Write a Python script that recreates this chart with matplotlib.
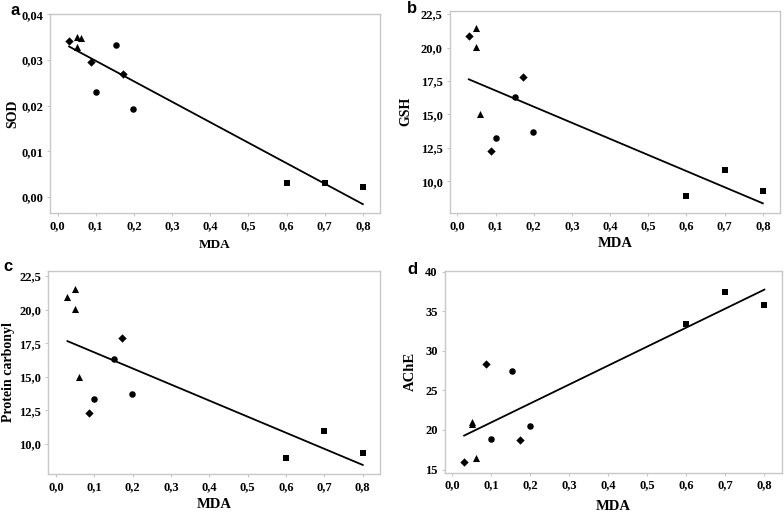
import matplotlib.pyplot as plt
import numpy as np
from matplotlib.ticker import FuncFormatter

# data, grouped by marker type
# panel a: SOD
a_dia_x = [0.03, 0.087, 0.172]
a_dia_y = [0.0341, 0.0295, 0.0269]
a_tri_x = [0.05, 0.06, 0.05]
a_tri_y = [0.0351, 0.0348, 0.0328]
a_cir_x = [0.10, 0.152, 0.198]
a_cir_y = [0.0229, 0.0334, 0.0193]
a_sq_x = [0.6, 0.7, 0.8]
a_sq_y = [0.0031, 0.0031, 0.0023]

# panel b: GSH
b_dia_x = [0.03, 0.087, 0.172]
b_dia_y = [20.86, 12.29, 17.83]
b_tri_x = [0.05, 0.05, 0.06]
b_tri_y = [21.48, 20.06, 15.02]
b_cir_x = [0.10, 0.152, 0.198]
b_cir_y = [13.28, 16.29, 13.68]
b_sq_x = [0.6, 0.7, 0.8]
b_sq_y = [8.88, 10.87, 9.25]

# panel c: protein carbonyl
c_dia_x = [0.087, 0.172]
c_dia_y = [12.33, 17.87]
c_tri_x = [0.03, 0.05, 0.05, 0.06]
c_tri_y = [20.92, 21.51, 20.07, 15.02]
c_cir_x = [0.10, 0.152, 0.198]
c_cir_y = [13.32, 16.31, 13.71]
c_sq_x = [0.6, 0.7, 0.8]
c_sq_y = [8.96, 10.94, 9.33]

# panel d: AChE
d_dia_x = [0.03, 0.087, 0.172]
d_dia_y = [16.0, 28.4, 18.76]
d_tri_x = [0.05, 0.05, 0.06]
d_tri_y = [21.0, 20.7, 16.4]
d_cir_x = [0.10, 0.152, 0.198]
d_cir_y = [18.89, 27.46, 20.49]
d_sq_x = [0.6, 0.7, 0.8]
d_sq_y = [33.41, 37.47, 35.78]

xticks = [0.0, 0.1, 0.2, 0.3, 0.4, 0.5, 0.6, 0.7, 0.8]

plt.rcParams["font.family"] = "Liberation Serif"
plt.rcParams["font.weight"] = "bold"
plt.rcParams["xtick.labelsize"] = 9
plt.rcParams["ytick.labelsize"] = 9
frame_col = "#c8c8c8"


def comma(fmt):
    return FuncFormatter(lambda v, p: (fmt % v).replace(".", ","))


def panel(rect, letter, groups, ylabel, ylim, yticks, yfmt, letter_pos,
          ylab_x, xlab_y, xlab_size, ylab_size):
    ax = fig.add_axes(rect)
    allx, ally = [], []
    for (gx, gy), m, s in zip(groups, ["D", "^", "o", "s"], [18, 26, 22, 22]):
        ax.scatter(gx, gy, marker=m, s=s, color="black", zorder=3, linewidths=0)
        allx += gx
        ally += gy
    k, b = np.polyfit(allx, ally, 1)
    xs = np.array([min(allx), max(allx)])
    ax.plot(xs, k * xs + b, color="black", lw=1.3)
    ax.set_xlim(-0.02, 0.845)
    ax.set_ylim(*ylim)
    ax.set_xticks(xticks)
    ax.set_yticks(yticks)
    ax.xaxis.set_major_formatter(comma("%.1f"))
    ax.yaxis.set_major_formatter(comma(yfmt))
    for sp in ax.spines.values():
        sp.set_color(frame_col)
        sp.set_linewidth(1.0)
    ax.tick_params(length=2.5, width=0.8, color=frame_col, pad=2.5)
    for t in ax.get_xticklabels() + ax.get_yticklabels():
        t.set_fontweight("heavy")
    ax.set_xlabel("MDA", fontweight="bold", fontsize=xlab_size)
    ax.set_ylabel(ylabel, fontweight="bold", fontsize=ylab_size)
    ax.xaxis.set_label_coords(0.5, xlab_y)
    ax.yaxis.set_label_coords(ylab_x, 0.5)
    fig.text(letter_pos[0], letter_pos[1], letter, fontfamily="Liberation Sans",
             fontweight="bold", fontsize=12, ha="left", va="top")
    return ax


fig = plt.figure(figsize=(7.84, 5.12), dpi=100)

panel([0.0638, 0.584, 0.4209, 0.3887], "a",
      [(a_dia_x, a_dia_y), (a_tri_x, a_tri_y), (a_cir_x, a_cir_y), (a_sq_x, a_sq_y)],
      "SOD", (-0.0035, 0.0401), [0.0, 0.01, 0.02, 0.03, 0.04], "%.2f", (0.014, 0.995),
      -0.094, -0.13, 9.5, 10)
panel([0.5736, 0.584, 0.4213, 0.395], "b",
      [(b_dia_x, b_dia_y), (b_tri_x, b_tri_y), (b_cir_x, b_cir_y), (b_sq_x, b_sq_y)],
      "GSH", (7.64, 22.75), [10, 12.5, 15, 17.5, 20, 22.5], "%.1f", (0.519, 0.998),
      -0.114, -0.119, 10.5, 10)
panel([0.0616, 0.0742, 0.4231, 0.3965], "c",
      [(c_dia_x, c_dia_y), (c_tri_x, c_tri_y), (c_cir_x, c_cir_y), (c_sq_x, c_sq_y)],
      "Protein carbonyl", (7.77, 22.87), [10, 12.5, 15, 17.5, 20, 22.5], "%.1f", (0.004, 0.494),
      -0.1, -0.118, 10.5, 10)
panel([0.5672, 0.0768, 0.4302, 0.3939], "d",
      [(d_dia_x, d_dia_y), (d_tri_x, d_tri_y), (d_cir_x, d_cir_y), (d_sq_x, d_sq_y)],
      "AChE", (14.6, 40.1), [15, 20, 25, 30, 35, 40], "%.0f", (0.519, 0.488),
      -0.082, -0.135, 10.5, 10.5)

fig.savefig("out.png", dpi=100)
